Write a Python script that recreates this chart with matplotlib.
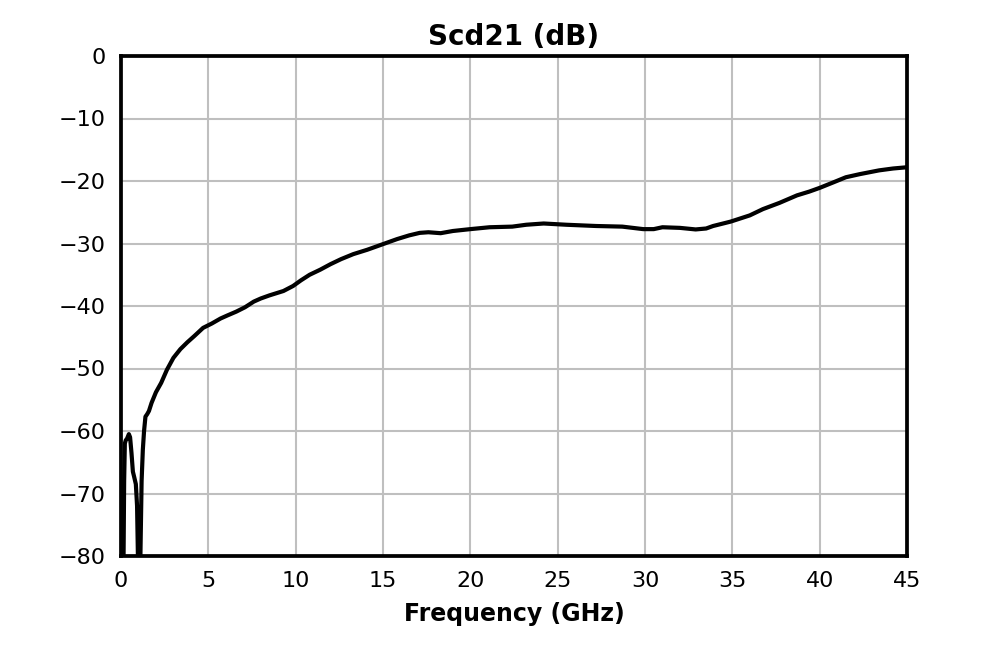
import matplotlib
matplotlib.use("Agg")
import matplotlib.pyplot as plt

freq_ghz = [0.0, 0.12, 0.18, 0.22, 0.27, 0.35, 0.45, 0.52, 0.6, 0.68, 0.75, 0.85, 0.92, 0.98,
            1.03, 1.1, 1.18, 1.25, 1.32, 1.4, 1.5, 1.6, 1.75, 2.0, 2.3, 2.63, 3.0, 3.4, 3.8,
            4.2, 4.7, 5.2, 5.7, 6.1, 6.6, 7.1, 7.6, 8.0, 8.5, 9.3, 9.85, 10.3, 10.8, 11.4,
            12.0, 12.6, 13.3, 14.1, 15.0, 15.8, 16.5, 17.1, 17.6, 18.3, 19.0, 20.0, 21.1,
            22.4, 23.2, 24.2, 25.5, 27.2, 28.7, 29.9, 30.5, 31.0, 32.0, 32.9, 33.5, 33.9,
            34.9, 36.0, 36.75, 37.7, 38.7, 39.4, 40.0, 40.8, 41.5, 42.3, 43.4, 44.2, 45.0]
scd21_db = [-95, -90, -68, -62, -61.5, -61.2, -60.5, -61.0, -63.5, -66.5, -67.3, -68.5, -72, -82,
            -90, -82, -68, -63, -60, -57.7, -57.3, -56.8, -55.5, -53.8, -52.3, -50.2, -48.3,
            -46.9, -45.8, -44.8, -43.5, -42.8, -42.0, -41.5, -40.9, -40.2, -39.3, -38.8, -38.3,
            -37.6, -36.8, -35.9, -35.0, -34.2, -33.3, -32.5, -31.7, -31.0, -30.1, -29.3, -28.7,
            -28.3, -28.2, -28.35, -28.0, -27.7, -27.4, -27.3, -27.0, -26.8, -27.0, -27.2, -27.3,
            -27.7, -27.7, -27.4, -27.5, -27.75, -27.6, -27.2, -26.5, -25.5, -24.5, -23.5, -22.3,
            -21.7, -21.1, -20.2, -19.4, -18.9, -18.3, -18.0, -17.8]

x_ticks = [0, 5, 10, 15, 20, 25, 30, 35, 40, 45]
y_ticks = [0, -10, -20, -30, -40, -50, -60, -70, -80]

fig = plt.figure(figsize=(10.08, 6.48), dpi=100)
ax = fig.add_axes([121/1008, 1 - 556/648, (907-121)/1008, (556-56)/648])
ax.plot(freq_ghz, scd21_db, color="black", linewidth=3.0, solid_joinstyle="round")
ax.set_xlim(0, 45)
ax.set_ylim(-80, 0)
ax.set_xticks(x_ticks)
ax.set_yticks(y_ticks)
ax.grid(True, color="#bfbfbf", linewidth=1.5)
ax.set_axisbelow(True)
for s in ax.spines.values():
    s.set_linewidth(2.7)
    s.set_color("black")
ax.tick_params(length=0, pad=11, labelsize=16)
ax.set_title("Scd21 (dB)", fontsize=20, fontweight="bold", pad=8)
ax.set_xlabel("Frequency (GHz)", fontsize=17, fontweight="bold", labelpad=8)
fig.savefig("out.png", dpi=100)
